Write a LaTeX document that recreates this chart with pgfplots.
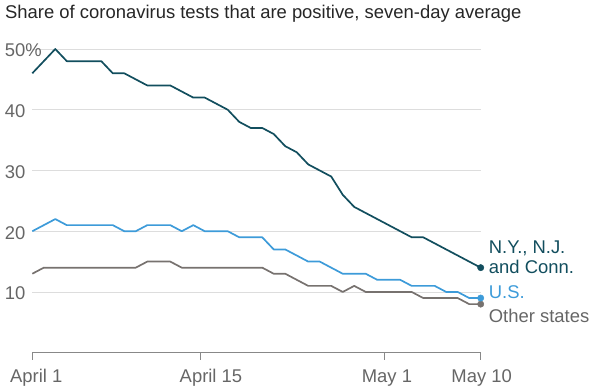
\documentclass[border=0pt]{standalone}
\usepackage{fontspec}
\setmainfont{Liberation Sans}
\usepackage{pgfplots}
\pgfplotsset{compat=1.18}
\definecolor{nyc}{HTML}{124E5E}
\definecolor{usc}{HTML}{3D9BD9}
\definecolor{othc}{HTML}{77726F}
\definecolor{tickc}{HTML}{666666}
\definecolor{gridc}{HTML}{DDDDDD}
\definecolor{axc}{HTML}{888888}
\begin{document}
\begin{tikzpicture}
\useasboundingbox (-32.3bp,-37.3bp) rectangle (567.7bp,352.7bp);
\begin{axis}[
  scale only axis,
  width=448.4bp, height=303.7bp,
  xmin=0, xmax=39, ymin=0, ymax=50,
  clip=false,
  axis line style={draw=none},
  axis x line*=bottom,
  axis y line*=left,
  ytick={10,20,30,40,50},
  yticklabels={10,20,30,40,50\%},
  ymajorgrids, grid style={gridc, line width=0.9bp},
  major y tick style={draw=none},
  xtick={0,14.67,30.67,39},
  xticklabels={\hspace*{8bp}April 1,\hspace*{20bp}April 15,\hspace*{4bp}May 1,\hspace*{2bp}May 10},
  major x tick style={axc, line width=1bp},
  major tick length=7bp,
  xtick align=outside,
  tick label style={font=\fontsize{18.5}{21}\selectfont, text=tickc},
  yticklabel style={anchor=west, xshift=-31bp, yshift=-1.5bp},
  xticklabel style={anchor=base, yshift=-23bp},
  /pgf/number format/assume math mode=true,
]
\draw[axc, line width=1.2bp] (axis cs:0,0) -- (axis cs:39,0);
\addplot[othc, line width=1.7bp, line join=round] coordinates {
(0,13)(1,14)(2,14)(3,14)(4,14)(5,14)(6,14)(7,14)(8,14)(9,14)
(10,15)(11,15)(12,15)(13,14)(14,14)(15,14)(16,14)(17,14)(18,14)(19,14)
(20,14)(21,13)(22,13)(23,12)(24,11)(25,11)(26,11)(27,10)(28,11)(29,10)
(30,10)(31,10)(32,10)(33,10)(34,9)(35,9)(36,9)(37,9)(38,8)(39,8)};
\addplot[usc, line width=1.7bp, line join=round] coordinates {
(0,20)(1,21)(2,22)(3,21)(4,21)(5,21)(6,21)(7,21)(8,20)(9,20)
(10,21)(11,21)(12,21)(13,20)(14,21)(15,20)(16,20)(17,20)(18,19)(19,19)
(20,19)(21,17)(22,17)(23,16)(24,15)(25,15)(26,14)(27,13)(28,13)(29,13)
(30,12)(31,12)(32,12)(33,11)(34,11)(35,11)(36,10)(37,10)(38,9)(39,9)};
\addplot[nyc, line width=1.7bp, line join=round] coordinates {
(0,46)(1,48)(2,50)(3,48)(4,48)(5,48)(6,48)(7,46)(8,46)(9,45)
(10,44)(11,44)(12,44)(13,43)(14,42)(15,42)(16,41)(17,40)(18,38)(19,37)
(20,37)(21,36)(22,34)(23,33)(24,31)(25,30)(26,29)(27,26)(28,24)(29,23)
(30,22)(31,21)(32,20)(33,19)(34,19)(35,18)(36,17)(37,16)(38,15)(39,14)};
\addplot[othc, only marks, mark=*, mark size=3.2bp] coordinates {(39,8)};
\addplot[usc, only marks, mark=*, mark size=3.2bp] coordinates {(39,9)};
\addplot[nyc, only marks, mark=*, mark size=3.2bp] coordinates {(39,14)};
\node[anchor=base west, text=nyc, font=\fontsize{18.5}{21}\selectfont, inner sep=0pt] at ([xshift=8bp]axis cs:39,16.3) {N.Y., N.J.};
\node[anchor=base west, text=nyc, font=\fontsize{18.5}{21}\selectfont, inner sep=0pt] at ([xshift=8bp]axis cs:39,13.0) {and Conn.};
\node[anchor=base west, text=usc, font=\fontsize{18.5}{21}\selectfont, inner sep=0pt] at ([xshift=8bp]axis cs:39,9.0) {U.S.};
\node[anchor=base west, text=tickc, font=\fontsize{18.5}{21}\selectfont, inner sep=0pt] at ([xshift=8bp]axis cs:39,5.0) {Other states};
\end{axis}
\node[anchor=base west, inner sep=0pt, text=black!85, font=\fontsize{18.5}{21}\selectfont] at (-27.3bp,334.4bp) {Share of coronavirus tests that are positive, seven-day average};
\end{tikzpicture}
\end{document}
